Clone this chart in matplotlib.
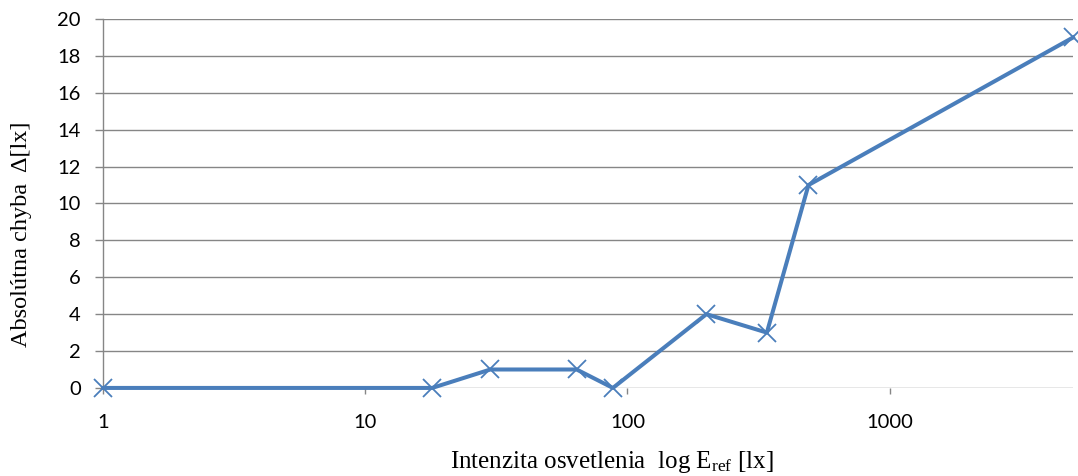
import matplotlib
matplotlib.use("Agg")
import matplotlib.pyplot as plt
from matplotlib.ticker import FixedLocator, NullLocator, FixedFormatter

# illuminance reference [lx] and absolute error [lx]
e_ref = [1, 18, 30, 64, 88, 200, 340, 490, 5000]
abs_err = [0, 0, 1, 1, 0, 4, 3, 11, 19]

x_ticks = [1, 10, 100, 1000]
x_tick_labels = ["1", "10", "100", "1000"]
y_ticks = list(range(0, 21, 2))

plt.rcParams["mathtext.fontset"] = "custom"
plt.rcParams["mathtext.rm"] = "Liberation Serif"
plt.rcParams["mathtext.it"] = "Liberation Serif"

GRID_C = "#868686"
LINE_C = "#4a7ebb"
TICK_FONT = "Lato"

fig = plt.figure(figsize=(10.78, 4.76), dpi=100)
ax = fig.add_axes([0.0955, 0.185, 0.8999, 0.775])

ax.plot(e_ref, abs_err, color=LINE_C, lw=2.9, marker="x", ms=13, mew=1.3,
        clip_on=False, zorder=3)

ax.set_xscale("log")
ax.set_xlim(1, 5000)
ax.set_ylim(0, 20)

ax.xaxis.set_major_locator(FixedLocator(x_ticks))
ax.xaxis.set_major_formatter(FixedFormatter(x_tick_labels))
ax.xaxis.set_minor_locator(NullLocator())
ax.set_yticks(y_ticks)

ax.grid(axis="y", color=GRID_C, lw=1.0)
ax.set_axisbelow(True)
for s in ("top", "right", "bottom"):
    ax.spines[s].set_visible(False)
ax.spines["left"].set_color(GRID_C)
ax.spines["left"].set_linewidth(1.0)

ax.tick_params(axis="y", length=6, width=1.0, color=GRID_C, pad=10,
               labelsize=14.5)
ax.tick_params(axis="x", length=4, width=1.0, color=GRID_C, pad=15,
               labelsize=14.5, direction="out")
for lab in ax.get_xticklabels() + ax.get_yticklabels():
    lab.set_fontfamily(TICK_FONT)

yl = ax.set_ylabel("Absolútna chyba  Δ[lx]", fontfamily="Liberation Serif",
                   fontsize=17.5, va="center", ha="center")
ax.yaxis.set_label_coords(-0.0835, 0.417)
xl = ax.set_xlabel("Intenzita osvetlenia  log E$_{\\mathrm{ref}}$ [lx]",
                   fontfamily="Liberation Serif", fontsize=18,
                   va="center", ha="center")
ax.xaxis.set_label_coords(0.525, -0.2)

fig.savefig("out.png", dpi=100)
